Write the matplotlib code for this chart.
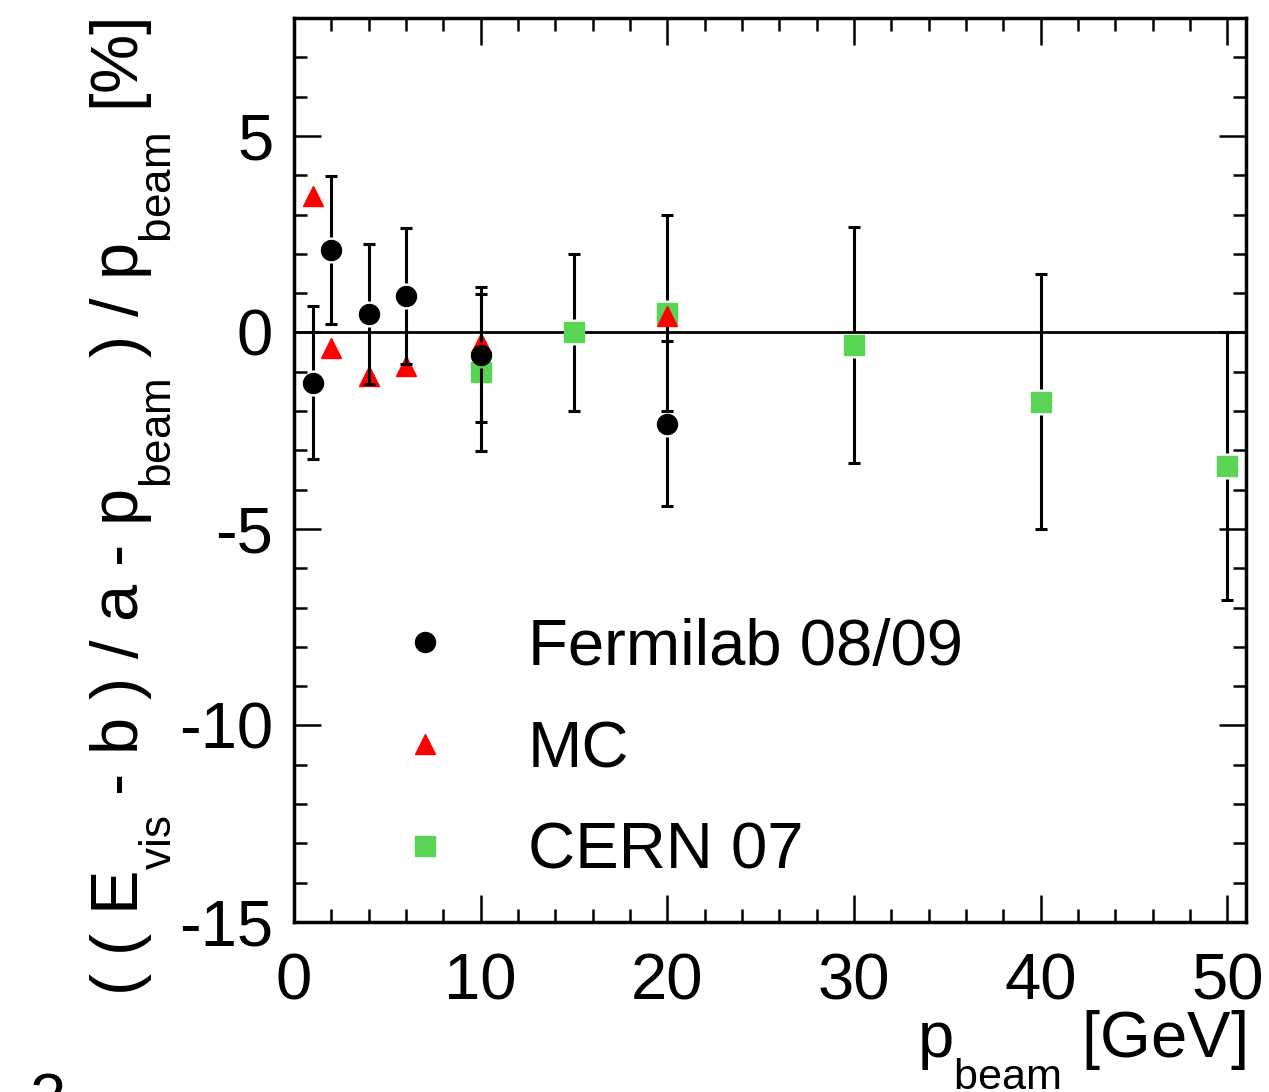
import matplotlib
matplotlib.use("Agg")
import matplotlib.pyplot as plt
from matplotlib.lines import Line2D
from matplotlib.ticker import MultipleLocator
import numpy as np

# ROOT-like subscripts: smaller and lower
try:
    import matplotlib._mathtext as _mt
    _mt.SHRINK_FACTOR = 0.66
    _mt.FontConstantsBase.sub1 = 0.95
except Exception:
    pass

plt.rcParams['font.family'] = ['Liberation Sans', 'DejaVu Sans']
plt.rcParams['mathtext.default'] = 'regular'
plt.rcParams['axes.unicode_minus'] = False

# Data
fnal_x = [1, 2, 4, 6, 10, 20]
fnal_y = [-1.28, 2.09, 0.47, 0.92, -0.57, -2.32]
fnal_err = [1.95, 1.88, 1.77, 1.73, 1.72, 2.1]

mc_x = [1, 2, 4, 6, 10, 20]
mc_y = [3.48, -0.39, -1.11, -0.86, -0.26, 0.42]

cern_x = [10, 15, 20, 30, 40, 50]
cern_y = [-1.01, 0.0, 0.5, -0.33, -1.76, -3.4]
cern_err = [2.0, 2.0, 2.5, 3.0, 3.25, 3.4]

labels = ["Fermilab 08/09", "MC", "CERN 07"]
green = "#59d454"

FS = 47
LW = 2.2

fig = plt.figure(figsize=(12.69, 10.92), dpi=100)
ax = fig.add_axes([294/1269, 1 - 922/1092, (1246-294)/1269, (922-18)/1092])
ax.set_xlim(0, 51)
ax.set_ylim(-15, 8)

# gap (ROOT style: error bars stop short of the marker), in data units
px_per_unit = ax.get_window_extent().height / (8 - (-15))
gap = 13.0 / px_per_unit


def gapped_errorbars(x, y, e, z):
    x = np.asarray(x, float)
    y = np.asarray(y, float)
    e = np.asarray(e, float)
    ax.vlines(x, y + gap, y + e, colors='black', lw=LW, zorder=z)
    ax.vlines(x, y - e, y - gap, colors='black', lw=LW, zorder=z)
    ax.errorbar(x, y, yerr=e, fmt='none', ecolor='black', elinewidth=0,
                capsize=4, capthick=LW, zorder=z)


ax.axhline(0, color='black', lw=2.0, zorder=1)

gapped_errorbars(cern_x, cern_y, cern_err, 2)
ax.plot(cern_x, cern_y, ls='none', marker='s', ms=13.7, color=green,
        mec=green, zorder=3)
ax.plot(mc_x, mc_y, ls='none', marker='^', ms=13.7, color='red',
        mec='red', zorder=4)
gapped_errorbars(fnal_x, fnal_y, fnal_err, 5)
ax.plot(fnal_x, fnal_y, ls='none', marker='o', ms=14.4, color='black',
        mec='black', zorder=6)

ax.xaxis.set_major_locator(MultipleLocator(10))
ax.xaxis.set_minor_locator(MultipleLocator(2))
ax.yaxis.set_major_locator(MultipleLocator(5))
ax.yaxis.set_minor_locator(MultipleLocator(1))

ax.tick_params(which='both', direction='in', top=True, right=True,
               width=1.8, labelsize=FS)
ax.tick_params(which='major', length=19.5)
ax.tick_params(which='minor', length=9.5)
ax.tick_params(axis='x', which='major', pad=22)
ax.tick_params(axis='y', which='major', pad=15)

for s in ax.spines.values():
    s.set_linewidth(2.5)

ax.set_xlabel(r"p$_{beam}$ [GeV]", fontsize=FS, loc='right')
ax.xaxis.set_label_coords(1.0, -0.095)
ax.set_ylabel(r"( ( E$_{vis}$ - b ) / a - p$_{beam}$ ) / p$_{beam}$ [%]",
              fontsize=48, loc='top')
ax.yaxis.set_label_coords(-0.127, 1.0)

handles = [
    Line2D([], [], ls='none', marker='o', ms=14.4, color='black'),
    Line2D([], [], ls='none', marker='^', ms=13.7, color='red'),
    Line2D([], [], ls='none', marker='s', ms=13.7, color=green),
]
ax.legend(handles, labels, loc='upper left', bbox_to_anchor=(0.103, 0.336),
          frameon=False, fontsize=FS, handlelength=1.0, handletextpad=1.08,
          labelspacing=0.64, borderpad=0, borderaxespad=0)

fig.text(30/1269, 1 - 1072/1092, "2", fontsize=FS, va='top', ha='left')

fig.savefig("out.png", dpi=100)
